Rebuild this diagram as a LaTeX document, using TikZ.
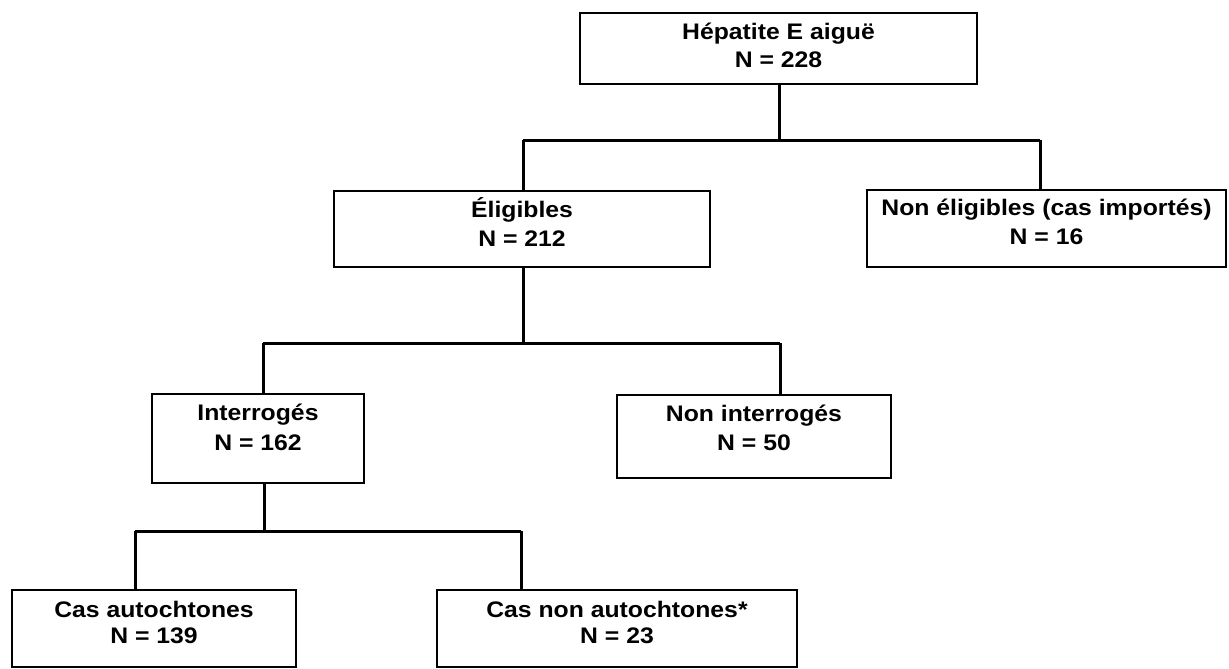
\documentclass[tikz,border=0pt]{standalone}
\usepackage{fontspec}
\newfontfamily\labfont{Liberation Sans}[FakeStretch=1.1]
\begin{document}
\begin{tikzpicture}[x=1pt,y=-1pt,
  box/.style={draw=black, line width=2.2pt, fill=none},
  conn/.style={draw=black, line width=3pt},
  lab/.style={anchor=base, inner sep=0pt, font=\labfont\bfseries\fontsize{22.5}{28}\selectfont}]
\useasboundingbox[fill=white] (0,0) rectangle (1229,669);
% boxes
\node[box, minimum width=397pt, minimum height=71pt, inner sep=0pt] (b1) at (778.5,48.5) {};
\node[box, minimum width=376pt, minimum height=76pt, inner sep=0pt] (b2) at (522,229) {};
\node[box, minimum width=359pt, minimum height=77pt, inner sep=0pt] (b3) at (1046.5,228.5) {};
\node[box, minimum width=212pt, minimum height=89pt, inner sep=0pt] (b4) at (258,438.5) {};
\node[box, minimum width=274pt, minimum height=83pt, inner sep=0pt] (b5) at (754,436.5) {};
\node[box, minimum width=284pt, minimum height=77pt, inner sep=0pt] (b6) at (154,628.5) {};
\node[box, minimum width=360pt, minimum height=77pt, inner sep=0pt] (b7) at (617,628.5) {};
% texts
\node[lab] (t1a) at (778.5,40) {Hépatite E aiguë};
\node[lab] (t1b) at (778.5,68) {N = 228};
\node[lab] (t2a) at (522,217) {Éligibles};
\node[lab] (t2b) at (522,246) {N = 212};
\node[lab] (t3a) at (1046.5,215) {Non éligibles (cas importés)};
\node[lab] (t3b) at (1046.5,244) {N = 16};
\node[lab] (t4a) at (258,420) {Interrogés};
\node[lab] (t4b) at (258,450) {N = 162};
\node[lab] (t5a) at (754,421) {Non interrogés};
\node[lab] (t5b) at (754,450) {N = 50};
\node[lab] (t6a) at (154,617) {Cas autochtones};
\node[lab] (t6b) at (154,643) {N = 139};
\node[lab] (t7a) at (617,617) {Cas non autochtones*};
\node[lab] (t7b) at (617,643) {N = 23};
% junction coordinates
\coordinate (h1m) at (779,140);
\coordinate (h1l) at (523,140);
\coordinate (h1r) at (1040,140);
\coordinate (h2m) at (523,343);
\coordinate (h2l) at (263,343);
\coordinate (h2r) at (780,343);
\coordinate (h3m) at (264,531);
\coordinate (h3l) at (135,531);
\coordinate (h3r) at (521,531);
% connectors
\draw[conn] (h1m |- b1.south) -- (h1m);
\draw[conn] (h1l) -- (h1r);
\draw[conn] (h1l) -- (h1l |- b2.north);
\draw[conn] (h1r) -- (h1r |- b3.north);
\draw[conn] (h2m |- b2.south) -- (h2m);
\draw[conn] (h2l) -- (h2r);
\draw[conn] (h2l) -- (h2l |- b4.north);
\draw[conn] (h2r) -- (h2r |- b5.north);
\draw[conn] (h3m |- b4.south) -- (h3m);
\draw[conn] (h3l) -- (h3r);
\draw[conn] (h3l) -- (h3l |- b6.north);
\draw[conn] (h3r) -- (h3r |- b7.north);
\end{tikzpicture}
\end{document}
